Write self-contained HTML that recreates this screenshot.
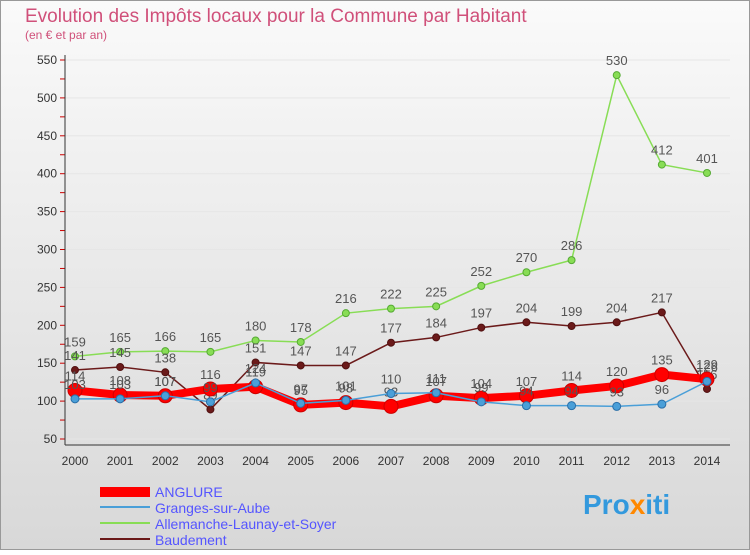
<!DOCTYPE html>
<html><head><meta charset="utf-8"><style>
body{margin:0;width:750px;height:550px;overflow:hidden;font-family:"Liberation Sans",sans-serif}
</style></head><body>
<svg width="750" height="550">
<defs><linearGradient id="bg" x1="0" y1="0" x2="0" y2="1"><stop offset="0" stop-color="#fafafa"/><stop offset="1" stop-color="#d8d8d8"/></linearGradient></defs>
<rect x="0.5" y="0.5" width="749" height="549" fill="url(#bg)" stroke="#999"/>
<text x="25" y="22" font-size="19" fill="#d0507a">Evolution des Impôts locaux pour la Commune par Habitant</text>
<text x="25" y="39" font-size="12" fill="#d0507a">(en € et par an)</text>
<g id="grid"></g><g id="axes"></g><g id="series"></g>
<g>
<rect x="100" y="487" width="50" height="10" fill="#ff0000"/>
<text x="155" y="497" font-size="14" fill="#5555ff">ANGLURE</text>
<rect x="100" y="506" width="50" height="2" fill="#4a9fd8"/>
<text x="155" y="513" font-size="14" fill="#5555ff">Granges-sur-Aube</text>
<rect x="100" y="522" width="50" height="2" fill="#88dd55"/>
<text x="155" y="529" font-size="14" fill="#5555ff">Allemanche-Launay-et-Soyer</text>
<rect x="100" y="538" width="50" height="2" fill="#6b1a1a"/>
<text x="155" y="545" font-size="14" fill="#5555ff">Baudement</text>
</g>
<text x="583" y="514" font-size="28" font-weight="bold" fill="#3399dd">Pro<tspan fill="#ff8800">x</tspan>iti</text>
</svg>
<script>
const years=[2000,2001,2002,2003,2004,2005,2006,2007,2008,2009,2010,2011,2012,2013,2014];
const yTicks=[50,100,150,200,250,300,350,400,450,500,550];
const anglure=[114,108,107,116,119,95,98,93,107,104,107,114,120,135,129];
const granges=[103,103,107,99,124,97,101,110,111,99,94,94,93,96,126];
const allemanche=[159,165,166,165,180,178,216,222,225,252,270,286,530,412,401];
const baudement=[141,145,138,89,151,147,147,177,184,197,204,199,204,217,116];
const NS="http://www.w3.org/2000/svg";
const X=i=>75+i*(707-75)/14;
const Y=v=>439-(v-50)*(439-60)/500;
function el(t,a,p){const e=document.createElementNS(NS,t);for(const k in a)e.setAttribute(k,a[k]);p.appendChild(e);return e;}
const grid=document.getElementById('grid'),axes=document.getElementById('axes'),ser=document.getElementById('series');
yTicks.forEach(v=>{
 const l=el('line',{x1:65,x2:730,y1:Y(v),y2:Y(v),stroke:'#e6e6e6'},grid);
 
 
 const t=el('text',{x:57,y:Y(v)+4,'text-anchor':'end','font-size':12,fill:'#333'},axes);
 t.textContent=v;
 
 
});
for(let v=50;v<=550;v+=25){const m=el('line',{x1:60,x2:65,y1:Y(v),y2:Y(v),stroke:'#c00'},axes);}
const ya=el('line',{x1:65,x2:65,y1:55,y2:445,stroke:'#333'},axes);

const xa=el('line',{x1:65,x2:730,y1:445,y2:445,stroke:'#333'},axes);

years.forEach((y,i)=>{
 const t=el('text',{x:X(i),y:465,'text-anchor':'middle','font-size':12,fill:'#333'},axes);
 t.textContent=y;
 
 
});
function draw(data,name,color,w,r,stroke){
 const g=el('g',{},ser);
 
 
 const p=el('polyline',{points:data.map((v,i)=>X(i)+','+Y(v)).join(' '),fill:'none',stroke:color,'stroke-width':w},g);
 
 
 data.forEach((v,i)=>{
  const c=el('circle',{cx:X(i),cy:Y(v),r:r,fill:color,stroke:stroke,'stroke-width':1},g);
  
  
  const t=el('text',{x:X(i),y:Y(v)-10,'text-anchor':'middle','font-size':13,fill:'#555'},g);
  t.textContent=v;
  
  
 });
}
draw(allemanche,'allemanche','#88dd55',1.5,3.5,'#55aa33');
draw(baudement,'baudement','#6b1a1a',1.5,3.5,'#501010');
draw(anglure,'anglure','#ff0000',8,7,'#cc0000');
draw(granges,'granges','#4a9fd8',1.5,4,'#2a6fa8');
</script>
</body></html>
